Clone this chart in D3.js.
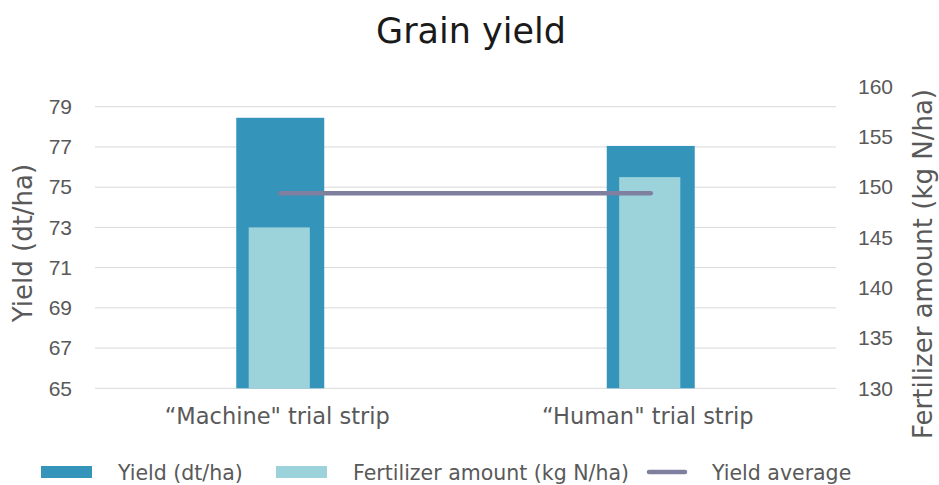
<!DOCTYPE html>
<html>
<head>
<meta charset="utf-8">
<script src="https://cdn.jsdelivr.net/npm/d3@7"></script>
<style>
  body { margin: 0; background: #fff; }
  svg { font-family: "Century Gothic", "DejaVu Sans", sans-serif; }
</style>
</head>
<body>
<svg id="chart" width="939" height="485"></svg>
<script>
// data
const categories = ["\u201cMachine\" trial strip", "\u201cHuman\" trial strip"];
const yieldValues = [78.45, 77.05];
const fertilizerValues = [146, 151];
const yieldAverage = [74.7, 74.7];
const leftTicks = [65, 67, 69, 71, 73, 75, 77, 79];
const rightTicks = [130, 135, 140, 145, 150, 155, 160];
const legendItems = ["Yield (dt/ha)", "Fertilizer amount (kg N/ha)", "Yield average"];

const colors = { yield: "#3494ba", fert: "#9cd3db", avg: "#7f7f9f" };
const textColor = "#595959";

const svg = d3.select("#chart");
const plot = { left: 95, right: 836, top: 86.6, bottom: 388.3 };

const x = d3.scaleBand().domain(categories).range([plot.left, plot.right]);
const yL = d3.scaleLinear().domain([65, 80]).range([plot.bottom, plot.top]);
const yR = d3.scaleLinear().domain([130, 160]).range([plot.bottom, plot.top]);

// gridlines
svg.append("g")
    .selectAll("line")
    .data(leftTicks)
    .join("line")
    .attr("x1", plot.left).attr("x2", plot.right)
    .attr("y1", d => yL(d)).attr("y2", d => yL(d))
    .attr("stroke", "#d9d9d9").attr("stroke-width", 1);

// left axis
const leftAxis = svg.append("g")
    .attr("transform", `translate(${plot.left}, 0)`)
    .call(d3.axisLeft(yL).tickValues(leftTicks).tickSize(0).tickPadding(23));
leftAxis.select(".domain").remove();
leftAxis.selectAll("text").attr("font-size", 21).attr("fill", textColor)
    .style("font-family", "inherit");

// right axis
const rightAxis = svg.append("g")
    .attr("transform", `translate(${plot.right}, 0)`)
    .call(d3.axisRight(yR).tickValues(rightTicks).tickSize(0).tickPadding(22));
rightAxis.select(".domain").remove();
rightAxis.selectAll("text").attr("font-size", 21).attr("fill", textColor)
    .style("font-family", "inherit");

// bars
const yieldW = x.bandwidth() * 0.2375;
const fertW = x.bandwidth() * 0.165;

svg.append("g")
    .selectAll("rect")
    .data(categories)
    .join("rect")
    .attr("x", d => x(d) + x.bandwidth() / 2 - yieldW / 2)
    .attr("width", yieldW)
    .attr("y", (d, i) => yL(yieldValues[i]))
    .attr("height", (d, i) => yL(65) - yL(yieldValues[i]))
    .attr("fill", colors.yield);

svg.append("g")
    .selectAll("rect")
    .data(categories)
    .join("rect")
    .attr("x", d => x(d) + x.bandwidth() / 2 - fertW / 2 - 1)
    .attr("width", fertW)
    .attr("y", (d, i) => yR(fertilizerValues[i]))
    .attr("height", (d, i) => yR(130) - yR(fertilizerValues[i]))
    .attr("fill", colors.fert);

// average line
const line = d3.line()
    .x((d, i) => x(categories[i]) + x.bandwidth() / 2)
    .y(d => yL(d));
svg.append("path")
    .datum(yieldAverage)
    .attr("fill", "none")
    .attr("stroke", colors.avg)
    .attr("stroke-width", 4.5)
    .attr("stroke-linecap", "round")
    .attr("d", line);

// category labels
svg.append("g")
    .selectAll("text")
    .data(categories)
    .join("text")
    .attr("x", d => x(d) + x.bandwidth() / 2 - 3)
    .attr("y", 424)
    .attr("text-anchor", "middle")
    .attr("font-size", 22.5)
    .attr("fill", textColor)
    .text(d => d);

// title
svg.append("text")
    .attr("x", 471).attr("y", 43)
    .attr("text-anchor", "middle")
    .attr("font-size", 35)
    .attr("fill", "#1a1a1a")
    .text("Grain yield");

// axis titles
svg.append("text")
    .attr("transform", "translate(32, 243) rotate(-90)")
    .attr("text-anchor", "middle")
    .attr("font-size", 26)
    .attr("fill", textColor)
    .text("Yield (dt/ha)");

svg.append("text")
    .attr("transform", "translate(932, 264) rotate(-90)")
    .attr("text-anchor", "middle")
    .attr("font-size", 26)
    .attr("fill", textColor)
    .text("Fertilizer amount (kg N/ha)");

// legend
const swatchX = [41, 276, 647];
const legendTextX = [118, 353, 712];
const lg = svg.append("g");
lg.append("rect").attr("x", swatchX[0]).attr("y", 466).attr("width", 51).attr("height", 12).attr("fill", colors.yield);
lg.append("rect").attr("x", swatchX[1]).attr("y", 466).attr("width", 51).attr("height", 12).attr("fill", colors.fert);
lg.append("line").attr("x1", swatchX[2] + 2).attr("x2", swatchX[2] + 38).attr("y1", 472).attr("y2", 472)
    .attr("stroke", colors.avg).attr("stroke-width", 4.5).attr("stroke-linecap", "round");
lg.selectAll("text")
    .data(legendItems)
    .join("text")
    .attr("x", (d, i) => legendTextX[i])
    .attr("y", 480)
    .attr("font-size", 20.5)
    .attr("fill", textColor)
    .text(d => d);
</script>
</body>
</html>
